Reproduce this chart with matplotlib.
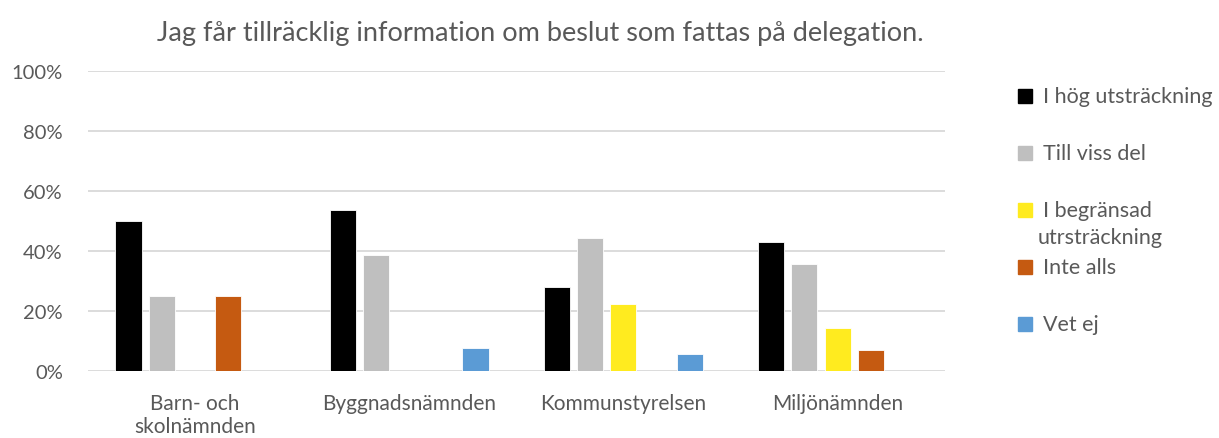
import numpy as np
import matplotlib.pyplot as plt
from matplotlib.patches import Rectangle
from matplotlib.ticker import PercentFormatter

plt.rcParams['font.family'] = ['Lato', 'DejaVu Sans']

# --- DATA ---
categories = ["Barn- och\nskolnämnden", "Byggnadsnämnden", "Kommunstyrelsen", "Miljönämnden"]
series_names = ["I hög utsträckning", "Till viss del", "I begränsad\nutrsträckning", "Inte alls", "Vet ej"]
hog = [50.0, 53.8, 27.8, 42.9]
viss = [25.0, 38.5, 44.4, 35.7]
begransad = [0.0, 0.0, 22.2, 14.3]
inte_alls = [25.0, 0.0, 0.0, 7.1]
vet_ej = [0.0, 7.7, 5.6, 0.0]
colors = ["#000000", "#bfbfbf", "#ffeb1f", "#c55a11", "#5b9bd5"]

series = [hog, viss, begransad, inte_alls, vet_ej]
text_col = "#595959"
W, H = 1219, 439

fig = plt.figure(figsize=(W / 100, H / 100), dpi=100)
ax = fig.add_axes([0.072, 0.153, 0.703, 0.683])

x = np.arange(len(categories))
width = 0.122
pitch = 0.155
for i, (vals, name, col) in enumerate(zip(series, series_names, colors)):
    offset = (i - 2) * pitch
    ax.bar(x + offset, vals, width, color=col, label=name, zorder=3,
           edgecolor="white", linewidth=0.6)

ax.set_ylim(0, 100)
ax.set_xlim(-0.5, len(categories) - 0.5)
ax.set_yticks(range(0, 101, 20))
ax.yaxis.set_major_formatter(PercentFormatter(decimals=0))
ax.set_xticks(x)
ax.set_xticklabels(categories, fontsize=15, color=text_col, linespacing=1.2)
ax.tick_params(axis='y', labelsize=14.5, labelcolor=text_col, length=0, pad=18)
ax.tick_params(axis='x', length=0, pad=16)
ax.grid(axis='y', color="#d9d9d9", linewidth=1.3, zorder=0)
for s in ax.spines.values():
    s.set_visible(False)

fig.text(540 / W, 1 - 33 / H, "Jag får tillräcklig information om beslut som fattas på delegation.",
         ha='center', va='center', fontsize=19.5, color=text_col)

# legend drawn by hand so the two-line entry keeps its marker on the first line
row_y = [97, 154, 211, 268, 325]
for name, col, ry in zip(series_names, colors, row_y):
    fig.add_artist(Rectangle((1018 / W, 1 - (ry + 7) / H), 14 / W, 14 / H,
                             transform=fig.transFigure, color=col))
    lines = name.split("\n")
    fig.text(1043 / W, 1 - ry / H, lines[0], ha='left', va='center',
             fontsize=15.5, color=text_col)
    for k, extra in enumerate(lines[1:], start=1):
        fig.text(1038 / W, 1 - (ry + 27 * k) / H, extra, ha='left', va='center',
                 fontsize=15.5, color=text_col)

fig.savefig("out.png", dpi=100)
